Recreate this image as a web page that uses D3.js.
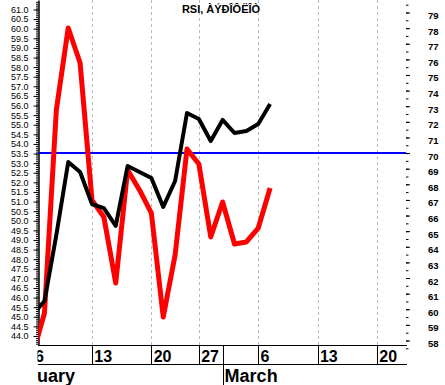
<!DOCTYPE html>
<html>
<head>
<meta charset="utf-8">
<script src="https://cdn.jsdelivr.net/npm/d3@7"></script>
<style>
  body { margin: 0; background: #fff; }
  text { font-family: "Liberation Sans", Arial, sans-serif; }
</style>
</head>
<body>
<div id="chart"></div>
<script>
// trading day index (0 = Feb 6)
const days = d3.range(0, 21);
const price = [45.09, 45.82, 49.26, 53.06, 52.54, 50.87, 50.66, 49.73, 52.85, 52.54, 52.23,
               50.72, 52.07, 55.61, 55.30, 54.15, 55.25, 54.57, 54.67, 55.04, 56.08];
const rsi = [57.07, 59.76, 72.76, 78.01, 75.77, 66.99, 65.91, 61.68, 68.92, 67.64, 66.16,
             59.50, 63.47, 70.26, 69.30, 64.63, 66.87, 64.18, 64.31, 65.20, 67.76];
const rsiLevel = 70;

const weekTicks = [0, 5, 10, 14, 19, 24, 29];
const weekLabels = ['6', '13', '20', '27', '6', '13', '20'];
const months = ['February', 'March'];
const monthStarts = [-3.08, 16];

const leftTicks = d3.range(44, 61.01, 0.5);
const rightTicks = d3.range(58, 79.01, 1);

const title = 'RSI, ÀÝÐÎÔËÎÒ';

const svgWidth = 445;
const svgHeight = 385;

const svg = d3.select('#chart')
  .append('svg')
    .attr('width', svgWidth)
    .attr('height', svgHeight);

const plot = { left: 38.5, right: 406, top: 0, bottom: 345 };

const xScale = d3.scaleLinear()
    .domain([0, 29])
    .range([32.6, 377]);

const yLeft = d3.scaleLinear()
    .domain([43.531, 61.495])
    .range([plot.bottom, plot.top]);

const yRight = d3.scaleLinear()
    .domain([58, 79])
    .range([340.5, 12.5]);

svg.append('clipPath').attr('id', 'plotClip')
  .append('rect')
    .attr('x', plot.left)
    .attr('y', plot.top)
    .attr('width', plot.right - plot.left)
    .attr('height', plot.bottom - plot.top);

svg.append('clipPath').attr('id', 'dateClip')
  .append('rect')
    .attr('x', 37.5)
    .attr('y', plot.bottom)
    .attr('width', plot.right - 37.5 + 1)
    .attr('height', svgHeight - plot.bottom);

// week grid
svg.append('g')
    .attr('clip-path', 'url(#plotClip)')
  .selectAll('line').data(weekTicks)
  .enter().append('line')
    .attr('x1', d => Math.round(xScale(d)) + 0.5)
    .attr('x2', d => Math.round(xScale(d)) + 0.5)
    .attr('y1', plot.top)
    .attr('y2', plot.bottom)
    .attr('stroke', '#bbb')
    .attr('stroke-dasharray', '3,3');

// left axis
const leftAxisG = svg.append('g')
    .attr('transform', `translate(${plot.left},0)`)
    .call(d3.axisLeft(yLeft)
        .tickValues(d3.range(43.6, 61.45, 0.1))
        .tickSize(2.5)
        .tickSizeOuter(0)
        .tickFormat(''));
leftAxisG.select('.domain').attr('stroke-width', 1.5);

svg.append('g')
    .attr('transform', `translate(${plot.left},0)`)
    .call(d3.axisLeft(yLeft)
        .tickValues(leftTicks)
        .tickSize(5)
        .tickPadding(5)
        .tickFormat(d3.format('.1f')))
    .call(g => g.select('.domain').remove())
    .call(g => g.selectAll('text')
        .attr('font-size', 9)
        .attr('fill', '#000')
        .attr('font-family', '"Liberation Sans", Arial, sans-serif'));

// right axis
svg.append('g')
    .attr('transform', `translate(${plot.right},0)`)
    .call(d3.axisRight(yRight)
        .tickValues(d3.range(57.5, 79.6, 0.5))
        .tickSize(2.5)
        .tickFormat(''))
    .call(g => g.select('.domain').remove());

svg.append('g')
    .attr('transform', `translate(${plot.right},0)`)
    .call(d3.axisRight(yRight)
        .tickValues(rightTicks)
        .tickSize(4)
        .tickPadding(18)
        .tickFormat(d3.format('d')))
    .call(g => g.select('.domain').remove())
    .call(g => g.selectAll('text')
        .attr('dy', '0.63em')
        .attr('font-size', 9.5)
        .attr('font-weight', 'bold')
        .attr('fill', '#000')
        .attr('font-family', '"Liberation Sans", Arial, sans-serif'));

// series
const lines = svg.append('g').attr('clip-path', 'url(#plotClip)');

lines.append('line')
    .attr('x1', plot.left)
    .attr('x2', plot.right)
    .attr('y1', yRight(rsiLevel))
    .attr('y2', yRight(rsiLevel))
    .attr('stroke', '#0000ff')
    .attr('stroke-width', 2);

const rsiLine = d3.line()
    .x((d, i) => xScale(days[i]))
    .y(d => yRight(d));

const priceLine = d3.line()
    .x((d, i) => xScale(days[i]))
    .y(d => yLeft(d));

lines.append('path')
    .datum(rsi)
    .attr('d', rsiLine)
    .attr('fill', 'none')
    .attr('stroke', '#ff0000')
    .attr('stroke-width', 5)
    .attr('stroke-linejoin', 'round');

lines.append('path')
    .datum(price)
    .attr('d', priceLine)
    .attr('fill', 'none')
    .attr('stroke', '#000')
    .attr('stroke-width', 4)
    .attr('stroke-linejoin', 'round');

// date rows
const dates = svg.append('g')
    .attr('clip-path', 'url(#dateClip)')
    .attr('shape-rendering', 'crispEdges');

[plot.bottom + 0.5, 364.5].forEach(y => {
    dates.append('line')
        .attr('x1', 37.5).attr('x2', plot.right + 1)
        .attr('y1', y).attr('y2', y)
        .attr('stroke', '#000');
});

dates.selectAll('.week-sep').data(weekTicks.concat(monthStarts.slice(1)))
  .enter().append('line')
    .attr('x1', d => Math.round(xScale(d)) + 0.5)
    .attr('x2', d => Math.round(xScale(d)) + 0.5)
    .attr('y1', plot.bottom)
    .attr('y2', 364.5)
    .attr('stroke', '#000');

dates.selectAll('.week-label').data(weekTicks)
  .enter().append('text')
    .attr('x', d => xScale(d) + 2.3)
    .attr('y', 361.5)
    .attr('font-size', 16)
    .attr('font-weight', 'bold')
    .text((d, i) => weekLabels[i]);

dates.selectAll('.month-sep').data(monthStarts.slice(1))
  .enter().append('line')
    .attr('x1', d => Math.round(xScale(d)) + 0.5)
    .attr('x2', d => Math.round(xScale(d)) + 0.5)
    .attr('y1', 364)
    .attr('y2', svgHeight)
    .attr('stroke', '#000');

dates.selectAll('.month-label').data(monthStarts)
  .enter().append('text')
    .attr('x', d => xScale(d) + 2)
    .attr('y', 382)
    .attr('font-size', 18)
    .attr('font-weight', 'bold')
    .text((d, i) => months[i]);

svg.append('text')
    .attr('x', 221)
    .attr('y', 12.5)
    .attr('text-anchor', 'middle')
    .attr('font-size', 11)
    .attr('font-weight', 'bold')
    .text(title);
</script>
</body>
</html>
